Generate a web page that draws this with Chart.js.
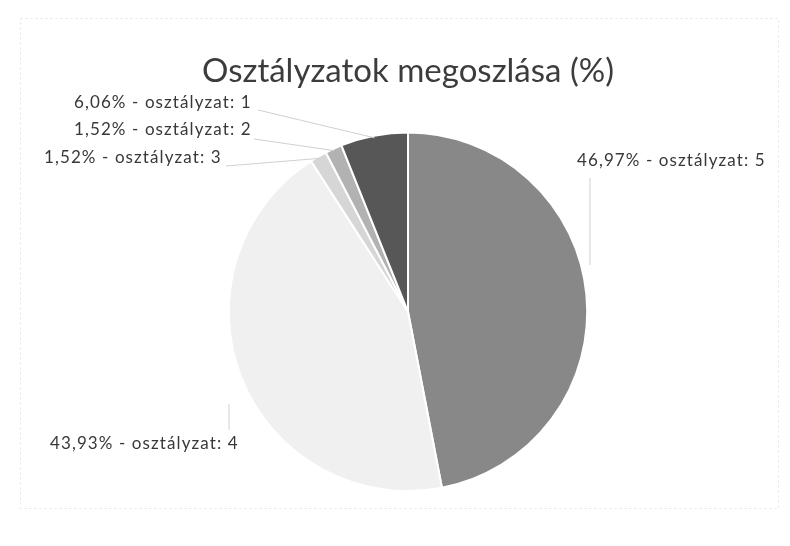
<!DOCTYPE html>
<html>
<head>
<meta charset="utf-8">
<script src="https://cdn.jsdelivr.net/npm/chart.js@4"></script>
<style>
  html, body { margin: 0; padding: 0; background: #fff; }
  #wrap { width: 790px; height: 546px; position: relative; }
</style>
</head>
<body>
<div id="wrap"><canvas id="gradeChart" width="790" height="546"></canvas></div>
<script>
// data
const grades = ['5', '4', '3', '2', '1'];
const shares = [46.97, 43.93, 1.52, 1.52, 6.06];
const sliceColors = ['#888888', '#f0f0f0', '#d6d6d6', '#b2b2b2', '#575757'];
const chartTitle = 'Osztályzatok megoszlása (%)';

// where each label sits (text left x, middle y) and where its leader starts
const labelSpots = [
  { x: 577, y: 161, lx: 590, ly: 178 },
  { x: 50, y: 444, lx: 229, ly: 430 },
  { x: 44, y: 158, lx: 226, ly: 166 },
  { x: 74, y: 130, lx: 254, ly: 139 },
  { x: 74, y: 103, lx: 258, ly: 110 }
];

const fmt = v => v.toFixed(2).replace('.', ',') + '%';

const pieLabels = {
  id: 'pieLabels',
  beforeDraw(chart) {
    const ctx = chart.ctx;
    ctx.save();
    ctx.strokeStyle = '#e4e4e4';
    ctx.lineWidth = 1;
    ctx.setLineDash([2, 3]);
    ctx.strokeRect(20.5, 18.5, 758, 490);
    ctx.restore();
  },
  afterDatasetsDraw(chart) {
    const ctx = chart.ctx;
    const arcs = chart.getDatasetMeta(0).data;
    ctx.save();
    ctx.font = '17px Lato';
    ctx.letterSpacing = '1.1px';
    ctx.textBaseline = 'middle';
    ctx.fillStyle = '#383838';
    arcs.forEach((arc, i) => {
      const spot = labelSpots[i];
      const mid = (arc.startAngle + arc.endAngle) / 2;
      const ex = arc.x + Math.cos(mid) * (arc.outerRadius - 2);
      const ey = arc.y + Math.sin(mid) * (arc.outerRadius - 2);
      ctx.strokeStyle = '#d0d0d0';
      ctx.lineWidth = 1;
      ctx.beginPath();
      ctx.moveTo(spot.lx, spot.ly);
      if (i === 0) {
        ctx.lineTo(spot.lx, ey - 30);
      } else if (i === 1) {
        ctx.lineTo(spot.lx, 404);
      } else {
        ctx.lineTo(ex, ey);
      }
      ctx.stroke();
      ctx.fillText(fmt(shares[i]) + ' - osztályzat: ' + grades[i], spot.x, spot.y);
    });
    ctx.restore();
  }
};

new Chart(document.getElementById('gradeChart'), {
  type: 'pie',
  data: {
    labels: grades,
    datasets: [{
      data: shares,
      backgroundColor: sliceColors,
      borderColor: '#ffffff',
      borderWidth: 2
    }]
  },
  options: {
    responsive: false,
    animation: false,
    layout: { padding: { left: 40, right: 14, top: 52, bottom: 54 } },
    plugins: {
      legend: { display: false },
      tooltip: { enabled: false },
      title: {
        display: true,
        text: chartTitle,
        color: '#3c3c3c',
        font: { family: 'Lato', size: 33, weight: 'normal' },
        padding: { top: 0, bottom: 40 }
      }
    }
  },
  plugins: [pieLabels]
});
</script>
</body>
</html>
